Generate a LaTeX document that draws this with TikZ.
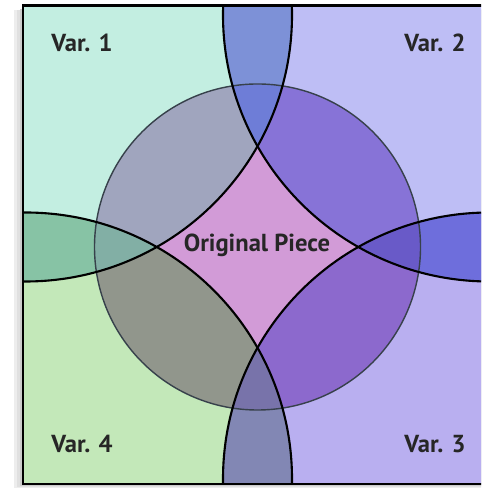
\documentclass[tikz,border=0pt]{standalone}
\usepackage{fontspec}
\setmainfont{PT Sans}
\usetikzlibrary{positioning}
% quarter colours, outside / inside the middle circle
\definecolor{vone}{RGB}{195,238,225}
\definecolor{vonein}{RGB}{160,165,190}
\definecolor{vtwo}{RGB}{190,190,245}
\definecolor{vtwoin}{RGB}{135,115,215}
\definecolor{vthree}{RGB}{185,175,240}
\definecolor{vthreein}{RGB}{140,105,205}
\definecolor{vfour}{RGB}{195,232,185}
\definecolor{vfourin}{RGB}{145,150,140}
\definecolor{piece}{RGB}{210,155,215}
% lens colours
\definecolor{ltop}{RGB}{125,145,215}
\definecolor{ltopin}{RGB}{110,125,215}
\definecolor{lleft}{RGB}{135,195,165}
\definecolor{lleftin}{RGB}{130,175,165}
\definecolor{lright}{RGB}{110,110,220}
\definecolor{lrightin}{RGB}{105,90,200}
\definecolor{lbot}{RGB}{130,135,180}
\definecolor{lbotin}{RGB}{120,115,170}
\definecolor{rimcol}{RGB}{55,65,75}
\tikzstyle{cut}=[draw=black,line width=1.2pt]
\tikzstyle{rim}=[draw=rimcol,line width=0.8pt]
\tikzstyle{frame}=[draw=black,line width=1.7pt]
\tikzstyle{lbl}=[font=\fontsize{14}{17}\selectfont\bfseries,text=black!85,inner sep=0pt,anchor=base]

\begin{document}
\begin{tikzpicture}[x=0.02cm,y=0.02cm]
\useasboundingbox (0,0) rectangle (481,489);
\clip (0,0) rectangle (481,489);
\coordinate (c) at (257.5,242);
\coordinate (tl) at (25.5,474);
\coordinate (tr) at (489.5,474);
\coordinate (br) at (489.5,10);
\coordinate (bl) at (25.5,10);
\def\rr{266.5}
\def\rc{163}
% soft shadow
\fill[black!7] (14,1) rectangle (490,479);
\fill[black!12] (17,2) rectangle (490,479);
\fill[black!20] (20,3) rectangle (490,480);
\fill[white] (23,5) rectangle (492,483);
% quarters and lenses
\begin{scope}
  \clip (23,5) rectangle (492,483);
  \foreach \p/\q in {tl/vone,tr/vtwo,br/vthree,bl/vfour}
    \fill[\q] (\p) circle (\rr);
  \foreach \p/\s/\q in {tl/tr/ltop,tl/bl/lleft,tr/br/lright,bl/br/lbot}{
    \begin{scope}
      \clip (\p) circle (\rr);
      \fill[\q] (\s) circle (\rr);
    \end{scope}}
\end{scope}
% middle circle
\begin{scope}
  \clip (c) circle (\rc);
  \fill[piece] (c) circle (\rc);
  \foreach \p/\q in {tl/vonein,tr/vtwoin,br/vthreein,bl/vfourin}
    \fill[\q] (\p) circle (\rr);
  \foreach \p/\s/\q in {tl/tr/ltopin,tl/bl/lleftin,tr/br/lrightin,bl/br/lbotin}{
    \begin{scope}
      \clip (\p) circle (\rr);
      \fill[\q] (\s) circle (\rr);
    \end{scope}}
\end{scope}
\draw[rim] (c) circle (\rc);
\begin{scope}
  \clip (23,5) rectangle (492,483);
  \foreach \p in {tl,tr,br,bl}
    \draw[cut] (\p) circle (\rr);
\end{scope}
\draw[frame] (23,5) rectangle (492,483);
% labels
\node[lbl] (v1) at (82,437) {Var. 1};
\node[lbl] (v2) at (435,437) {Var. 2};
\node[lbl] (v3) at (435,36) {Var. 3};
\node[lbl] (v4) at (82,36) {Var. 4};
\node[lbl] (orig) at (257,237) {Original Piece};
\end{tikzpicture}
\end{document}
